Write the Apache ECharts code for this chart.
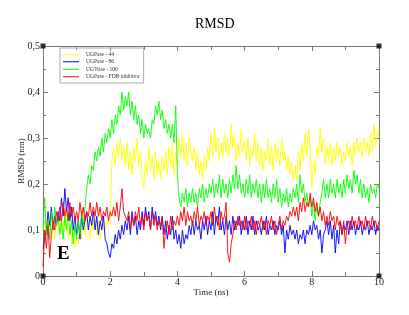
<!DOCTYPE html>
<html>
<head>
<meta charset="utf-8">
<script src="https://cdn.jsdelivr.net/npm/echarts@6/dist/echarts.min.js"></script>
<style>
  html, body { margin: 0; padding: 0; background: #fff; }
  #chart { width: 409px; height: 315px; }
</style>
</head>
<body>
<div id="chart"></div>
<script>
// sampling step of the trajectory (ns)
const timeStep = 0.05;

const seriesNames = ["UGPase - 44", "UGPase - 86", "UG'Pase - 100", "UGPase - PDB inhibitor"];
const seriesColors = ["#ffff00", "#0000ff", "#00ff00", "#ff0000"];

const xTicks = [0, 2, 4, 6, 8, 10];
const yTicks = [0, 0.1, 0.2, 0.3, 0.4, 0.5];

const rmsd44 = [
  0.10, 0.12, 0.09, 0.13, 0.10, 0.14, 0.11, 0.08, 0.12, 0.10,
  0.13, 0.09, 0.12, 0.10, 0.14, 0.08, 0.11, 0.07, 0.10, 0.06,
  0.09, 0.07, 0.11, 0.08, 0.12, 0.09, 0.13, 0.10, 0.08, 0.12,
  0.10, 0.13, 0.09, 0.12, 0.08, 0.11, 0.13, 0.10, 0.12, 0.11,
  0.12, 0.25, 0.28, 0.24, 0.29, 0.26, 0.30, 0.25, 0.28, 0.24,
  0.29, 0.23, 0.27, 0.22, 0.28, 0.25, 0.30, 0.24, 0.27, 0.21,
  0.19, 0.25, 0.22, 0.28, 0.23, 0.26, 0.21, 0.27, 0.22, 0.25,
  0.21, 0.26, 0.23, 0.27, 0.22, 0.28, 0.24, 0.29, 0.22, 0.27,
  0.24, 0.30, 0.26, 0.31, 0.25, 0.29, 0.24, 0.30, 0.27, 0.25,
  0.28, 0.23, 0.27, 0.22, 0.25, 0.21, 0.26, 0.23, 0.28, 0.25,
  0.31, 0.26, 0.32, 0.27, 0.30, 0.25, 0.29, 0.26, 0.31, 0.27,
  0.30, 0.26, 0.33, 0.28, 0.31, 0.25, 0.29, 0.26, 0.32, 0.27,
  0.29, 0.25, 0.30, 0.24, 0.28, 0.26, 0.31, 0.25, 0.29, 0.24,
  0.28, 0.23, 0.27, 0.25, 0.30, 0.24, 0.28, 0.23, 0.29, 0.25,
  0.28, 0.24, 0.30, 0.25, 0.27, 0.23, 0.26, 0.22, 0.25, 0.21,
  0.24, 0.21, 0.27, 0.23, 0.29, 0.25, 0.31, 0.26, 0.32, 0.27,
  0.19, 0.25, 0.22, 0.28, 0.26, 0.32, 0.27, 0.30, 0.24, 0.28,
  0.25, 0.29, 0.24, 0.28, 0.25, 0.29, 0.26, 0.28, 0.24, 0.27,
  0.25, 0.29, 0.26, 0.28, 0.24, 0.29, 0.26, 0.30, 0.27, 0.29,
  0.26, 0.30, 0.27, 0.29, 0.26, 0.31, 0.27, 0.33, 0.28, 0.32,
  0.30
];

const rmsd86 = [
  0.06, 0.08, 0.10, 0.14, 0.11, 0.15, 0.10, 0.13, 0.11, 0.14,
  0.12, 0.17, 0.13, 0.19, 0.14, 0.17, 0.12, 0.15, 0.10, 0.13,
  0.09, 0.12, 0.08, 0.13, 0.10, 0.12, 0.14, 0.10, 0.13, 0.11,
  0.14, 0.10, 0.13, 0.09, 0.12, 0.10, 0.13, 0.08, 0.07, 0.05,
  0.04, 0.07, 0.06, 0.09, 0.07, 0.10, 0.08, 0.11, 0.09, 0.12,
  0.10, 0.13, 0.09, 0.14, 0.11, 0.13, 0.09, 0.12, 0.10, 0.14,
  0.11, 0.15, 0.12, 0.14, 0.10, 0.15, 0.12, 0.14, 0.11, 0.13,
  0.10, 0.13, 0.09, 0.12, 0.08, 0.11, 0.09, 0.13, 0.08, 0.10,
  0.07, 0.09, 0.06, 0.10, 0.07, 0.09, 0.08, 0.11, 0.09, 0.12,
  0.09, 0.12, 0.10, 0.11, 0.08, 0.12, 0.10, 0.13, 0.09, 0.12,
  0.10, 0.14, 0.09, 0.13, 0.11, 0.15, 0.10, 0.12, 0.09, 0.13,
  0.10, 0.12, 0.09, 0.13, 0.10, 0.12, 0.11, 0.13, 0.09, 0.12,
  0.10, 0.13, 0.09, 0.12, 0.10, 0.13, 0.09, 0.12, 0.10, 0.11,
  0.09, 0.12, 0.10, 0.13, 0.09, 0.11, 0.10, 0.12, 0.09, 0.11,
  0.10, 0.12, 0.09, 0.11, 0.05, 0.10, 0.08, 0.11, 0.09, 0.10,
  0.08, 0.10, 0.07, 0.09, 0.08, 0.10, 0.07, 0.10, 0.09, 0.11,
  0.09, 0.12, 0.10, 0.11, 0.08, 0.10, 0.05, 0.09, 0.10, 0.12,
  0.09, 0.12, 0.08, 0.11, 0.05, 0.10, 0.07, 0.12, 0.09, 0.11,
  0.10, 0.12, 0.09, 0.12, 0.10, 0.12, 0.09, 0.11, 0.10, 0.12,
  0.09, 0.11, 0.10, 0.12, 0.09, 0.11, 0.10, 0.12, 0.09, 0.11,
  0.10
];

const rmsd100 = [
  0.10, 0.17, 0.09, 0.12, 0.08, 0.14, 0.10, 0.15, 0.11, 0.13,
  0.09, 0.12, 0.08, 0.13, 0.10, 0.14, 0.09, 0.12, 0.07, 0.11,
  0.08, 0.12, 0.09, 0.14, 0.11, 0.15, 0.19, 0.22, 0.20, 0.24,
  0.23, 0.27, 0.25, 0.28, 0.26, 0.30, 0.27, 0.31, 0.29, 0.32,
  0.30, 0.34, 0.31, 0.35, 0.33, 0.37, 0.35, 0.40, 0.36, 0.39,
  0.37, 0.40, 0.35, 0.38, 0.34, 0.37, 0.33, 0.35, 0.31, 0.34,
  0.30, 0.33, 0.31, 0.32, 0.30, 0.34, 0.33, 0.37, 0.35, 0.38,
  0.34, 0.36, 0.32, 0.34, 0.31, 0.33, 0.30, 0.33, 0.29, 0.37,
  0.22, 0.17, 0.15, 0.18, 0.16, 0.19, 0.15, 0.18, 0.16, 0.19,
  0.16, 0.18, 0.15, 0.19, 0.17, 0.20, 0.16, 0.19, 0.17, 0.20,
  0.18, 0.21, 0.17, 0.20, 0.18, 0.22, 0.17, 0.21, 0.18, 0.20,
  0.17, 0.21, 0.18, 0.22, 0.19, 0.24, 0.19, 0.22, 0.18, 0.20,
  0.17, 0.21, 0.18, 0.22, 0.17, 0.20, 0.18, 0.21, 0.17, 0.20,
  0.16, 0.20, 0.17, 0.21, 0.17, 0.19, 0.16, 0.20, 0.17, 0.21,
  0.16, 0.19, 0.15, 0.18, 0.16, 0.19, 0.15, 0.18, 0.16, 0.19,
  0.17, 0.20, 0.16, 0.22, 0.18, 0.20, 0.16, 0.18, 0.15, 0.17,
  0.13, 0.16, 0.12, 0.15, 0.13, 0.16, 0.18, 0.21, 0.17, 0.20,
  0.17, 0.21, 0.18, 0.20, 0.17, 0.21, 0.18, 0.20, 0.17, 0.21,
  0.18, 0.22, 0.19, 0.21, 0.18, 0.23, 0.20, 0.22, 0.18, 0.21,
  0.17, 0.20, 0.17, 0.19, 0.16, 0.20, 0.18, 0.19, 0.17, 0.20,
  0.19
];

const rmsdPdb = [
  0.02, 0.10, 0.06, 0.11, 0.04, 0.09, 0.12, 0.10, 0.14, 0.12,
  0.15, 0.12, 0.16, 0.13, 0.15, 0.12, 0.16, 0.13, 0.15, 0.12,
  0.14, 0.12, 0.16, 0.13, 0.15, 0.12, 0.14, 0.13, 0.16, 0.13,
  0.15, 0.13, 0.16, 0.13, 0.15, 0.12, 0.14, 0.13, 0.15, 0.12,
  0.14, 0.13, 0.15, 0.13, 0.16, 0.12, 0.15, 0.19, 0.14, 0.13,
  0.12, 0.14, 0.10, 0.13, 0.11, 0.14, 0.12, 0.15, 0.11, 0.13,
  0.10, 0.14, 0.12, 0.13, 0.10, 0.14, 0.11, 0.13, 0.10, 0.12,
  0.11, 0.13, 0.06, 0.10, 0.12, 0.09, 0.13, 0.10, 0.12, 0.11,
  0.13, 0.11, 0.14, 0.12, 0.15, 0.11, 0.14, 0.12, 0.13, 0.11,
  0.14, 0.12, 0.15, 0.11, 0.13, 0.12, 0.14, 0.11, 0.13, 0.12,
  0.14, 0.11, 0.15, 0.12, 0.13, 0.10, 0.14, 0.12, 0.13, 0.16,
  0.05, 0.03, 0.07, 0.09, 0.12, 0.10, 0.13, 0.11, 0.12, 0.10,
  0.13, 0.10, 0.12, 0.11, 0.13, 0.10, 0.12, 0.09, 0.12, 0.11,
  0.13, 0.10, 0.12, 0.09, 0.12, 0.11, 0.13, 0.10, 0.12, 0.09,
  0.11, 0.13, 0.10, 0.12, 0.11, 0.13, 0.12, 0.14, 0.13, 0.15,
  0.13, 0.15, 0.12, 0.16, 0.14, 0.17, 0.14, 0.16, 0.15, 0.18,
  0.15, 0.17, 0.14, 0.16, 0.13, 0.15, 0.12, 0.14, 0.11, 0.13,
  0.11, 0.14, 0.12, 0.13, 0.10, 0.13, 0.11, 0.12, 0.09, 0.12,
  0.07, 0.11, 0.12, 0.10, 0.13, 0.11, 0.12, 0.10, 0.13, 0.11,
  0.12, 0.10, 0.13, 0.11, 0.12, 0.10, 0.13, 0.11, 0.12, 0.10,
  0.12
];

const allSeries = [rmsd44, rmsd86, rmsd100, rmsdPdb];

const serif = "'Liberation Serif', 'DejaVu Serif', serif";
const axisGrey = "#777";

function withTime(values) {
  return values.map((v, i) => [+(i * timeStep).toFixed(2), v]);
}

function yLabel(v) {
  return v === 0 ? "0" : v.toFixed(1).replace(".", ",");
}

const chart = echarts.init(document.getElementById("chart"), null, { renderer: "canvas" });

const lineSeries = seriesNames.map((name, i) => ({
  name: name,
  type: "line",
  data: withTime(allSeries[i]),
  showSymbol: false,
  symbol: "none",
  color: seriesColors[i],
  lineStyle: { width: 0.9, color: seriesColors[i] },
  silent: true,
  z: 2 + i,
}));

// small black squares on the frame corners
lineSeries.push({
  type: "scatter",
  data: [[xTicks[0], yTicks[0]], [xTicks[0], yTicks[5]], [xTicks[5], yTicks[0]], [xTicks[5], yTicks[5]]],
  symbol: "rect",
  symbolSize: 5,
  itemStyle: { color: "#000" },
  silent: true,
  z: 10,
});

chart.setOption({
  animation: false,
  backgroundColor: "#fff",
  title: {
    text: "RMSD",
    left: 190,
    top: 12,
    textStyle: { fontFamily: serif, fontSize: 14, fontWeight: "normal", color: "#000" },
  },
  legend: {
    data: seriesNames,
    orient: "vertical",
    left: 60,
    top: 48,
    padding: [3, 4, 3, 3],
    itemGap: 1,
    itemWidth: 16,
    itemHeight: 1,
    icon: "rect",
    borderColor: "#aaa",
    borderWidth: 1,
    textStyle: { fontFamily: serif, fontSize: 5.5, lineHeight: 6.5, color: "#333", padding: [0, 0, 0, 2] },
  },
  grid: { left: 43, right: 30, top: 46, bottom: 39 },
  xAxis: [
    {
      type: "value",
      min: xTicks[0],
      max: xTicks[xTicks.length - 1],
      interval: 2,
      name: "Time (ns)",
      nameLocation: "middle",
      nameGap: 12,
      nameMoveOverlap: false,
      nameTextStyle: { fontFamily: serif, fontSize: 9, color: "#222" },
      axisLine: { onZero: false, lineStyle: { color: axisGrey, width: 1 } },
      axisTick: { inside: true, length: 5, lineStyle: { color: axisGrey } },
      minorTick: { show: true, splitNumber: 2, length: 4, lineStyle: { color: axisGrey } },
      axisLabel: { fontFamily: serif, fontSize: 10, color: "#222", margin: 1 },
      splitLine: { show: false },
    },
    {
      type: "value",
      position: "top",
      min: xTicks[0],
      max: xTicks[xTicks.length - 1],
      interval: 2,
      axisLine: { onZero: false, lineStyle: { color: axisGrey, width: 1 } },
      axisTick: { inside: true, length: 5, lineStyle: { color: axisGrey } },
      minorTick: { show: true, splitNumber: 2, length: 4, lineStyle: { color: axisGrey } },
      axisLabel: { show: false },
      splitLine: { show: false },
    },
  ],
  yAxis: [
    {
      type: "value",
      min: yTicks[0],
      max: yTicks[yTicks.length - 1],
      interval: 0.1,
      name: "RMSD (nm)",
      nameLocation: "middle",
      nameGap: 17,
      nameMoveOverlap: false,
      nameTextStyle: { fontFamily: serif, fontSize: 9, color: "#222" },
      axisLine: { onZero: false, lineStyle: { color: axisGrey, width: 1 } },
      axisTick: { inside: true, length: 5, lineStyle: { color: axisGrey } },
      minorTick: { show: true, splitNumber: 2, length: 3, lineStyle: { color: axisGrey } },
      axisLabel: { fontFamily: serif, fontSize: 10, color: "#222", margin: 3, formatter: yLabel },
      splitLine: { show: false },
    },
    {
      type: "value",
      position: "right",
      min: yTicks[0],
      max: yTicks[yTicks.length - 1],
      interval: 0.1,
      axisLine: { onZero: false, lineStyle: { color: axisGrey, width: 1 } },
      axisTick: { inside: true, length: 5, lineStyle: { color: axisGrey } },
      minorTick: { show: true, splitNumber: 2, length: 3, lineStyle: { color: axisGrey } },
      axisLabel: { show: false },
      splitLine: { show: false },
    },
  ],
  graphic: [
    {
      type: "text",
      left: 57,
      top: 245,
      z: 20,
      style: { text: "E", font: "bold 19px " + serif, fill: "#000" },
    },
  ],
  series: lineSeries,
});
</script>
</body>
</html>
